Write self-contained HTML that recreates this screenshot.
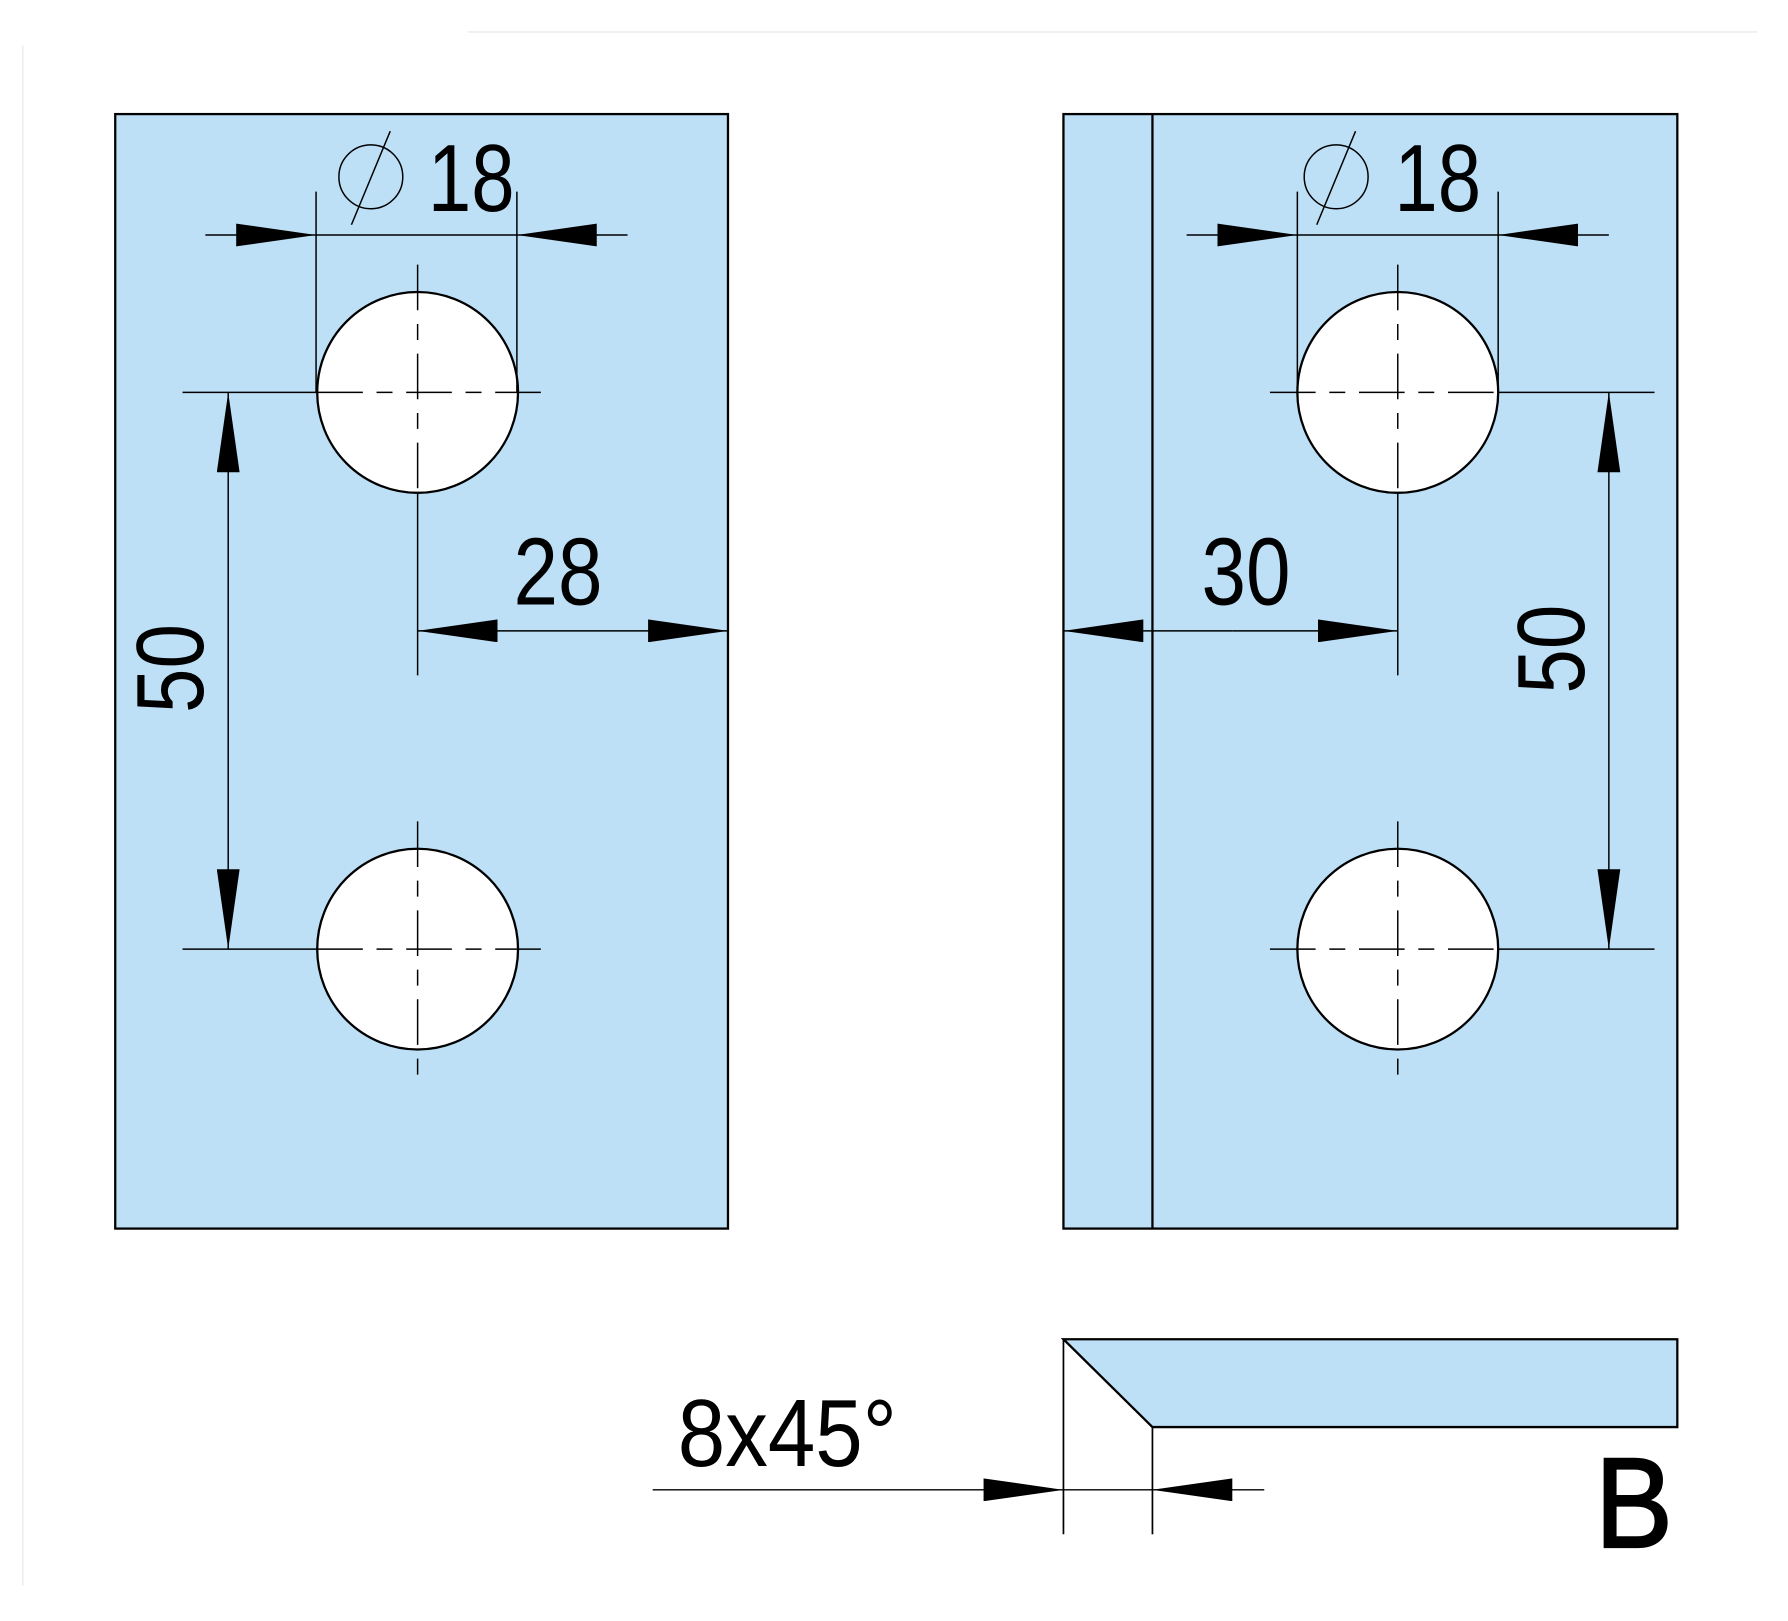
<!DOCTYPE html>
<html><head><meta charset="utf-8"><style>html,body{margin:0;padding:0;background:#fff}svg{display:block}</style></head>
<body>
<svg width="1788" height="1621" viewBox="0 0 1567 1421" preserveAspectRatio="none" xmlns="http://www.w3.org/2000/svg">
<defs>
<marker id="a" viewBox="0 0 70 20" refX="70" refY="10" markerWidth="70" markerHeight="20" markerUnits="userSpaceOnUse" orient="auto"><path d="M0,0 L70,10 L0,20 Z" fill="#000"/></marker>
</defs>
<g stroke="#eee" stroke-width="1.5"><line x1="410" y1="28" x2="1540" y2="28"/><line x1="20" y1="40" x2="20" y2="1390"/></g>
<g stroke="#000" stroke-width="2" fill="#bde0f6">
<rect x="101" y="100" width="537" height="977"/>
<rect x="932" y="100" width="538" height="977"/>
<polygon points="932,1174 1470,1174 1470,1251 1010,1251"/>
</g>
<g stroke="#000" stroke-width="1.5" fill="none">
<line x1="1010" y1="100" x2="1010" y2="1077" stroke-width="2"/>
<line x1="932" y1="1174" x2="932" y2="1345"/><line x1="1010" y1="1251" x2="1010" y2="1345"/>
</g>
<g stroke="#000" stroke-width="2" fill="#fff">
<circle cx="366" cy="344" r="88"/><circle cx="366" cy="832" r="88"/>
<circle cx="1225" cy="344" r="88"/><circle cx="1225" cy="832" r="88"/>
</g>
<g stroke="#000" stroke-width="1.3" fill="none" stroke-dasharray="40,12,14,12">
<line x1="278" y1="344" x2="478" y2="344"/><line x1="278" y1="832" x2="478" y2="832"/>
<line x1="366" y1="232" x2="366" y2="432"/><line x1="366" y1="720" x2="366" y2="945"/>
<line x1="1113" y1="344" x2="1313" y2="344"/><line x1="1113" y1="832" x2="1313" y2="832"/>
<line x1="1225" y1="232" x2="1225" y2="432"/><line x1="1225" y1="720" x2="1225" y2="945"/>
</g>
<g stroke="#000" stroke-width="1.3" fill="none">
<line x1="160" y1="344" x2="278" y2="344"/><line x1="160" y1="832" x2="278" y2="832"/>
<line x1="366" y1="432" x2="366" y2="592"/>
<line x1="1313" y1="344" x2="1450" y2="344"/><line x1="1313" y1="832" x2="1450" y2="832"/>
<line x1="1225" y1="432" x2="1225" y2="592"/>
<line x1="277" y1="168" x2="277" y2="344"/><line x1="453" y1="168" x2="453" y2="344"/>
<line x1="1137" y1="168" x2="1137" y2="344"/><line x1="1313" y1="168" x2="1313" y2="344"/>
<line x1="180" y1="206" x2="277" y2="206" marker-end="url(#a)"/><line x1="550" y1="206" x2="453" y2="206" marker-end="url(#a)"/><line x1="277" y1="206" x2="453" y2="206"/>
<line x1="1040" y1="206" x2="1137" y2="206" marker-end="url(#a)"/><line x1="1410" y1="206" x2="1313" y2="206" marker-end="url(#a)"/><line x1="1137" y1="206" x2="1313" y2="206"/>
<line x1="500" y1="553" x2="366" y2="553" marker-end="url(#a)"/><line x1="500" y1="553" x2="638" y2="553" marker-end="url(#a)"/>
<line x1="1080" y1="553" x2="932" y2="553" marker-end="url(#a)"/><line x1="1080" y1="553" x2="1225" y2="553" marker-end="url(#a)"/>
<line x1="200" y1="590" x2="200" y2="344" marker-end="url(#a)"/><line x1="200" y1="590" x2="200" y2="832" marker-end="url(#a)"/>
<line x1="1410" y1="590" x2="1410" y2="344" marker-end="url(#a)"/><line x1="1410" y1="590" x2="1410" y2="832" marker-end="url(#a)"/>
<line x1="572" y1="1306" x2="932" y2="1306" marker-end="url(#a)"/><line x1="1108" y1="1306" x2="1010" y2="1306" marker-end="url(#a)"/><line x1="932" y1="1306" x2="1010" y2="1306"/>
<circle cx="325" cy="155" r="28"/><line x1="342" y1="115" x2="308" y2="197"/>
<circle cx="1171" cy="155" r="28"/><line x1="1188" y1="115" x2="1154" y2="197"/>
</g>
<g font-family="Liberation Sans, sans-serif" font-size="84" fill="#000">
<text x="375" y="185" textLength="76" lengthAdjust="spacingAndGlyphs">18</text>
<text x="1222" y="185" textLength="76" lengthAdjust="spacingAndGlyphs">18</text>
<text x="450" y="530" textLength="78" lengthAdjust="spacingAndGlyphs">28</text>
<text x="1053" y="530" textLength="78" lengthAdjust="spacingAndGlyphs">30</text>
<text transform="translate(178,625) rotate(-90)" textLength="78" lengthAdjust="spacingAndGlyphs">50</text>
<text transform="translate(1388,608) rotate(-90)" textLength="78" lengthAdjust="spacingAndGlyphs">50</text>
<text x="594" y="1285" textLength="192" lengthAdjust="spacingAndGlyphs">8x45°</text>
<text x="1398" y="1356" font-size="112" textLength="68" lengthAdjust="spacingAndGlyphs" stroke="#000" stroke-width="2">B</text>
</g>
</svg>
</body></html>
